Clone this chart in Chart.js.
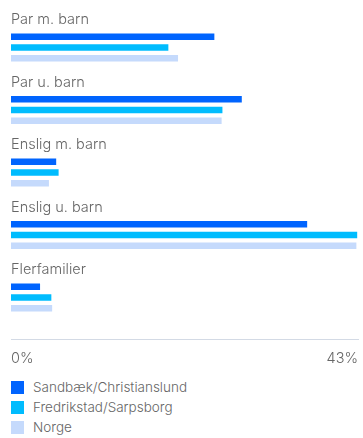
<!DOCTYPE html>
<html>
<head>
<meta charset="utf-8">
<script src="https://cdn.jsdelivr.net/npm/chart.js@4/dist/chart.umd.min.js"></script>
<style>
  body { margin: 0; background: #fff; font-family: Inter, sans-serif; }
  .wrap { position: relative; width: 363px; height: 438px; }
  .chart-box { position: relative; width: 363px; height: 377px; }
  #legend { list-style: none; margin: 0; padding: 0; position: absolute; left: 11px; top: 377px; }
  #legend li { display: flex; align-items: center; height: 20px; font-size: 13.5px; font-weight: 300; color: #666; }
  #legend .box { width: 13px; height: 13px; margin-right: 9px; }
</style>
</head>
<body>
<div class="wrap">
  <div class="chart-box"><canvas id="famChart"></canvas></div>
  <ul id="legend"></ul>
</div>
<script>
  const categories = ['Par m. barn', 'Par u. barn', 'Enslig m. barn', 'Enslig u. barn', 'Flerfamilier'];
  const seriesNames = ['Sandbæk/Christianslund', 'Fredrikstad/Sarpsborg', 'Norge'];
  const sandbaek = [25.2, 28.6, 5.6, 36.7, 3.6];
  const fredrikstad = [19.5, 26.2, 5.9, 42.9, 5.0];
  const norge = [20.7, 26.1, 4.7, 42.8, 5.1];
  const xTicks = [0, 43];
  const colors = ['#0064fe', '#00bcfe', '#c5dafc'];

  const labelFont = { family: 'Inter, sans-serif', size: 14.5, weight: 300 };

  const datasets = [sandbaek, fredrikstad, norge].map((d, i) => ({
    label: seriesNames[i],
    data: d,
    backgroundColor: colors[i]
  }));
  // to tomme plasser nederst i hver gruppe, så søylene havner under kategorinavnet
  datasets.push({ label: '', data: [] }, { label: '', data: [] });

  const ctx = document.getElementById('famChart').getContext('2d');
  const chart = new Chart(ctx, {
    type: 'bar',
    data: { labels: categories, datasets: datasets },
    options: {
      indexAxis: 'y',
      responsive: true,
      maintainAspectRatio: false,
      animation: false,
      layout: { padding: { left: 11, right: 5, top: 27, bottom: 0 } },
      datasets: { bar: { categoryPercentage: 0.864, barPercentage: 0.6 } },
      plugins: { legend: { display: false }, tooltip: { enabled: false } },
      scales: {
        x: {
          min: 0,
          max: 43,
          afterBuildTicks: axis => { axis.ticks = xTicks.map(v => ({ value: v })); },
          // etikettene er justert innover, så aksen trenger ikke ekstra sidemarg
          afterFit: axis => { axis.paddingLeft = 0; axis.paddingRight = 0; },
          grid: { display: false, drawTicks: false },
          border: { display: true, color: '#d3dae5', width: 1 },
          ticks: {
            align: 'inner',
            padding: 10,
            color: '#666',
            font: labelFont,
            callback: v => v + '%'
          }
        },
        y: {
          grid: { display: false, drawTicks: false },
          border: { display: false },
          ticks: {
            mirror: true,
            padding: 0,
            labelOffset: -38.5,
            color: '#666',
            font: labelFont
          }
        }
      }
    }
  });

  // Forklaring under grafen
  const legend = document.getElementById('legend');
  seriesNames.forEach((name, i) => {
    const li = document.createElement('li');
    li.innerHTML = `<span class="box" style="background:${colors[i]}"></span>${name}`;
    legend.appendChild(li);
  });
</script>
</body>
</html>
